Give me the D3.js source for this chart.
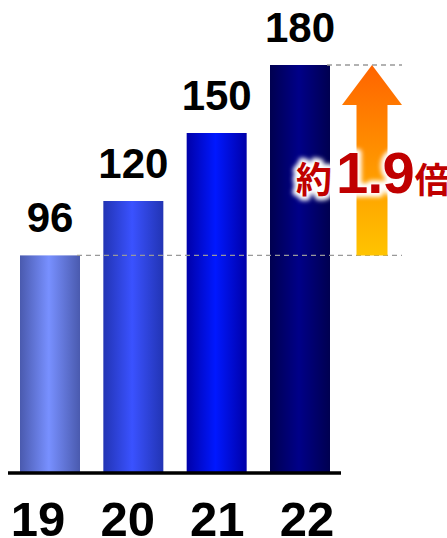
<!DOCTYPE html>
<html><head><meta charset="utf-8">
<script src="https://cdn.jsdelivr.net/npm/d3@7"></script>
<style>html,body{margin:0;padding:0;background:#fff;}svg{display:block;}</style>
</head><body>
<script>
const categories = ["19", "20", "21", "22"];
const values = [96, 120, 150, 180];
const barEdge = ["#4a5aae", "#2234b4", "#0000a8", "#000050"];
const barMid = ["#7890ff", "#3a52ff", "#0018ff", "#000088"];
const ratioLabel = ["約", "1.9", "倍"];

const W = 447, H = 538;
const svg = d3.select("body").append("svg").attr("width", W).attr("height", H);
const defs = svg.append("defs");

const x = d3.scaleBand().domain(categories).range([20, 330]).paddingInner(0.28).paddingOuter(0);
const xLabel = d3.scalePoint().domain(categories).range([38, 307]);
const y = d3.scaleLinear().domain([0, 180]).range([473, 65]);

categories.forEach((c, i) => {
  const g = defs.append("linearGradient").attr("id", "bg" + i).attr("x1", "0%").attr("x2", "100%").attr("y1", "0%").attr("y2", "0%");
  g.append("stop").attr("offset", "0%").attr("stop-color", barEdge[i]);
  g.append("stop").attr("offset", "48%").attr("stop-color", barMid[i]);
  g.append("stop").attr("offset", "100%").attr("stop-color", barEdge[i]);
});

const ag = defs.append("linearGradient").attr("id", "arrowG").attr("x1", "0").attr("x2", "0").attr("y1", "0").attr("y2", "1");
ag.append("stop").attr("offset", "0%").attr("stop-color", "#ff6400");
ag.append("stop").attr("offset", "100%").attr("stop-color", "#ffc400");

const glow = defs.append("filter").attr("id", "glow").attr("x", "-20%").attr("y", "-20%").attr("width", "140%").attr("height", "140%");
glow.append("feGaussianBlur").attr("stdDeviation", 2);

// bars
svg.selectAll("rect.bar").data(values).join("rect").attr("class", "bar")
  .attr("x", (d, i) => x(categories[i])).attr("width", x.bandwidth())
  .attr("y", d => y(d)).attr("height", d => y(0) - y(d))
  .attr("fill", (d, i) => `url(#bg${i})`);

// value labels
svg.selectAll("text.val").data(values).join("text").attr("class", "val")
  .attr("x", (d, i) => x(categories[i]) + x.bandwidth() / 2)
  .attr("y", d => y(d) - 23)
  .attr("text-anchor", "middle")
  .attr("font-family", "Liberation Sans, Arial, sans-serif").attr("font-weight", "bold")
  .attr("font-size", 42).attr("fill", "#000").text(d => d);

// axis line
svg.append("line").attr("x1", 8).attr("x2", 341).attr("y1", y(0)).attr("y2", y(0))
  .attr("stroke", "#000").attr("stroke-width", 3.5);

// category labels
svg.selectAll("text.cat").data(categories).join("text").attr("class", "cat")
  .attr("x", d => xLabel(d)).attr("y", 536)
  .attr("text-anchor", "middle")
  .attr("font-family", "Liberation Sans, Arial, sans-serif").attr("font-weight", "bold")
  .attr("font-size", 49).attr("fill", "#000").text(d => d);

// dashed reference lines
const lo = values[0], hi = values[values.length - 1];
svg.append("line").attr("x1", x(categories[0]) + x.bandwidth() - 3).attr("x2", 402)
  .attr("y1", y(lo)).attr("y2", y(lo))
  .attr("stroke", "#999").attr("stroke-width", 1.3).attr("stroke-dasharray", "5,4");
svg.append("line").attr("x1", x(categories[3]) + x.bandwidth() - 3).attr("x2", 402)
  .attr("y1", y(hi)).attr("y2", y(hi))
  .attr("stroke", "#999").attr("stroke-width", 1.3).attr("stroke-dasharray", "5,4");

// arrow
const ax = 372, headHalf = 30, shaftHalf = 15.5;
const arrowPts = [
  [ax, y(hi)], [ax + headHalf, y(hi) + 40], [ax + shaftHalf, y(hi) + 40],
  [ax + shaftHalf, y(lo)], [ax - shaftHalf, y(lo)], [ax - shaftHalf, y(hi) + 40],
  [ax - headHalf, y(hi) + 40]
];
svg.append("polygon").attr("points", arrowPts.map(p => p.join(",")).join(" "))
  .attr("fill", "url(#arrowG)");

// ratio text with white glow
function ratioText(sel) {
  sel.attr("x", 296).attr("y", 193).attr("font-family", "Liberation Sans, Arial, 'Noto Sans CJK JP', sans-serif")
    .attr("font-weight", "bold");
  sel.append("tspan").attr("font-size", 36).attr("font-family", "'Noto Sans CJK JP', sans-serif").text(ratioLabel[0]);
  sel.append("tspan").attr("font-size", 58).attr("dx", 4).attr("letter-spacing", -1).text(ratioLabel[1]);
  sel.append("tspan").attr("font-size", 35).attr("dx", 1).attr("font-family", "'Noto Sans CJK JP', sans-serif").text(ratioLabel[2]);
}
svg.append("text").call(ratioText).attr("fill", "#fff").attr("stroke", "#fff")
  .attr("stroke-width", 8).attr("stroke-linejoin", "round").attr("filter", "url(#glow)");
svg.append("text").call(ratioText).attr("fill", "#c00000");
</script>
</body></html>
